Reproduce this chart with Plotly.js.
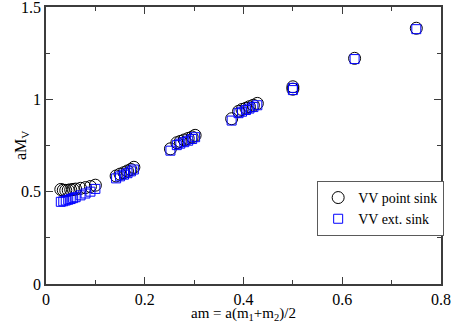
<!DOCTYPE html>
<html>
<head>
<meta charset="utf-8">
<script src="https://cdn.plot.ly/plotly-3.0.1.min.js"></script>
<style>html,body{margin:0;padding:0;background:#fff}</style>
</head>
<body>
<div id="chart" style="width:452px;height:322px"></div>
<script>
// point sink (circles)
var pointX = [0.030, 0.035, 0.040, 0.045, 0.050, 0.055, 0.060, 0.070, 0.080, 0.090, 0.100,
  0.142, 0.150, 0.158, 0.165, 0.172, 0.178,
  0.252, 0.265, 0.272, 0.280, 0.288, 0.296, 0.302,
  0.376, 0.390, 0.397, 0.405, 0.412, 0.420, 0.428,
  0.500, 0.500, 0.625, 0.750];
var pointY = [0.512, 0.508, 0.507, 0.508, 0.510, 0.512, 0.514, 0.518, 0.522, 0.528, 0.535,
  0.585, 0.595, 0.603, 0.612, 0.620, 0.632,
  0.732, 0.765, 0.772, 0.780, 0.788, 0.796, 0.805,
  0.895, 0.935, 0.945, 0.952, 0.960, 0.968, 0.978,
  1.055, 1.068, 1.222, 1.385];
// extended sink (squares)
var extX = [0.030, 0.035, 0.040, 0.045, 0.050, 0.055, 0.060, 0.070, 0.080, 0.090, 0.100,
  0.142, 0.150, 0.158, 0.165, 0.172, 0.178,
  0.252, 0.265, 0.272, 0.280, 0.288, 0.296, 0.302,
  0.376, 0.390, 0.397, 0.405, 0.412, 0.420, 0.428,
  0.500, 0.500, 0.625, 0.750];
var extY = [0.445, 0.448, 0.452, 0.456, 0.460, 0.465, 0.470, 0.480, 0.490, 0.500, 0.515,
  0.572, 0.583, 0.592, 0.600, 0.610, 0.620,
  0.722, 0.752, 0.760, 0.768, 0.776, 0.785, 0.795,
  0.885, 0.925, 0.933, 0.942, 0.950, 0.958, 0.968,
  1.050, 1.062, 1.218, 1.380];

var serif = '"Liberation Serif"';

var trace1 = {
  x: pointX, y: pointY,
  type: 'scatter', mode: 'markers',
  name: 'VV point sink',
  marker: {symbol: 'circle-open', size: 12, color: 'rgb(0,0,0)', line: {width: 1}}
};
var trace2 = {
  x: extX, y: extY,
  type: 'scatter', mode: 'markers',
  name: 'VV ext. sink',
  marker: {symbol: 'square-open', size: 9, color: 'rgb(0,0,255)', line: {width: 1}}
};

var axisStyle = {
  showgrid: false, zeroline: false,
  showline: true, linecolor: 'rgb(60,60,60)', linewidth: 1.5, mirror: 'allticks',
  ticks: 'inside', ticklen: 7, tickwidth: 1.2, tickcolor: 'rgb(60,60,60)',
  ticklabeloverflow: 'allow',
  tickfont: {family: serif, size: 16, color: '#000'}
};

var layout = {
  width: 452, height: 322,
  margin: {l: 46, r: 11, t: 7, b: 38},
  paper_bgcolor: '#fff', plot_bgcolor: '#fff',
  font: {family: serif, color: '#000'},
  showlegend: true,
  legend: {
    x: 1.008, xanchor: 'right', y: 0.372, yanchor: 'top',
    bordercolor: 'rgb(90,90,90)', borderwidth: 1, bgcolor: '#fff',
    font: {family: serif, size: 14},
    tracegroupgap: 0, itemwidth: 30
  },
  xaxis: Object.assign({}, axisStyle, {
    range: [0, 0.8], dtick: 0.2, tick0: 0,
    minor: {dtick: 0.1, ticks: 'inside', ticklen: 4, tickcolor: 'rgb(60,60,60)'}
  }),
  yaxis: Object.assign({}, axisStyle, {
    range: [0, 1.5], dtick: 0.5, tick0: 0,
    minor: {dtick: 0.25, ticks: 'inside', ticklen: 4, tickcolor: 'rgb(60,60,60)'}
  }),
  annotations: [
    {text: 'am = a(m<sub>1</sub>+m<sub>2</sub>)/2', xref: 'paper', yref: 'paper',
     x: 0.5, y: -0.067, xanchor: 'center', yanchor: 'top', showarrow: false,
     font: {family: serif, size: 15}},
    {text: 'aM<sub>V</sub>', xref: 'paper', yref: 'paper', textangle: -90,
     x: -0.062, y: 0.5, xanchor: 'center', yanchor: 'middle', showarrow: false,
     font: {family: serif, size: 16}}
  ]
};

Plotly.newPlot('chart', [trace1, trace2], layout, {displayModeBar: false});
</script>
</body>
</html>
